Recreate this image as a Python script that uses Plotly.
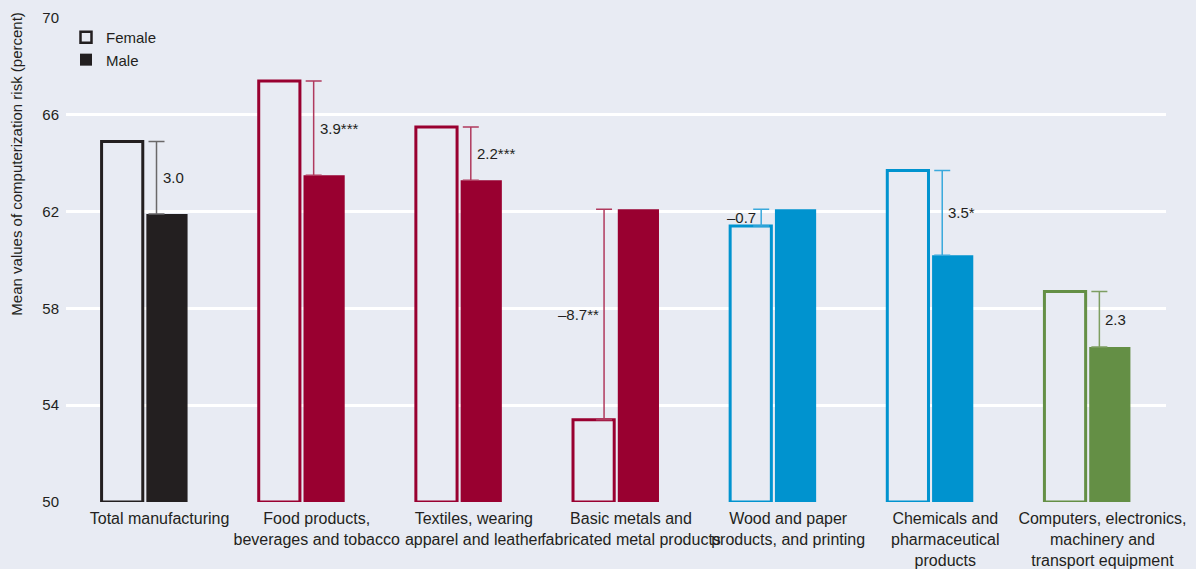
import plotly.graph_objects as go

# Sector categories (x axis)
categories = [
    "Total manufacturing",
    "Food products,<br>beverages and tobacco",
    "Textiles, wearing<br>apparel and leather",
    "Basic metals and<br>fabricated metal products",
    "Wood and paper<br>products, and printing",
    "Chemicals and<br>pharmaceutical<br>products",
    "Computers, electronics,<br>machinery and<br>transport equipment",
]

# Mean computerization risk (percent)
female = [64.9, 67.4, 65.5, 53.4, 61.4, 63.7, 58.7]
male = [61.9, 63.5, 63.3, 62.1, 62.1, 60.2, 56.4]
significance = ["", "***", "***", "**", "", "*", ""]

y_ticks = [50, 54, 58, 62, 66, 70]
AXIS_MIN, AXIS_MAX = 50, 70

bar_colors = ["#231f20", "#990030", "#990030", "#990030", "#0093cf", "#0093cf", "#648f45"]
whisker_colors = ["#6a6869", "#b03a5e", "#b03a5e", "#b03a5e", "#3aa9dc", "#3aa9dc", "#7e9e62"]

BG = "#e8ebf3"
TEXT = "#231f20"
FONT = "Liberation Sans, Arial, sans-serif"

xs = list(range(len(categories)))

fig = go.Figure()

fig.add_trace(go.Bar(
    x=xs, y=[v - AXIS_MIN for v in female], base=AXIS_MIN,
    marker=dict(color=BG, line=dict(color=bar_colors, width=3)),
    showlegend=False, hoverinfo="skip", offsetgroup="f",
))
fig.add_trace(go.Bar(
    x=xs, y=[v - AXIS_MIN for v in male], base=AXIS_MIN,
    marker=dict(color=bar_colors, line=dict(width=0)),
    showlegend=False, hoverinfo="skip", offsetgroup="m",
))

# Gap whiskers between female and male means, with labelled difference
annotations = []
for i in xs:
    d = female[i] - male[i]
    lo = min(female[i], male[i])
    side = 1 if d > 0 else -1
    xw = i + side * 0.076
    fig.add_trace(go.Scatter(
        x=[xw], y=[lo], mode="markers",
        marker=dict(size=1, color="rgba(0,0,0,0)"),
        error_y=dict(type="data", symmetric=False, array=[abs(d)], arrayminus=[0],
                     color=whisker_colors[i], thickness=1.5, width=8),
        showlegend=False, hoverinfo="skip",
    ))
    label = f"{d:.1f}".replace("-", "\u2013") + significance[i]
    annotations.append(dict(
        x=xw, y=(female[i] + male[i]) / 2, xref="x", yref="y",
        text=label, showarrow=False,
        xanchor="left" if side > 0 else "right",
        xshift=4 if side > 0 else -3,
        font=dict(size=15, color=TEXT, family=FONT),
    ))

# Legend entries
fig.add_trace(go.Scatter(
    x=[None], y=[None], mode="markers", name="Female",
    marker=dict(symbol="square-open", size=11, color=TEXT, line=dict(width=2.5, color=TEXT)),
))
fig.add_trace(go.Scatter(
    x=[None], y=[None], mode="markers", name="Male",
    marker=dict(symbol="square", size=12, color=TEXT),
))

annotations.append(dict(
    x=-0.0445, y=0.38, xref="paper", yref="paper",
    text="Mean values of computerization risk (percent)",
    textangle=-90, showarrow=False, xanchor="center", yanchor="bottom",
    font=dict(size=15, color=TEXT, family=FONT),
))

fig.update_layout(
    template="none",
    width=1196, height=569,
    margin=dict(l=66, r=30, t=18, b=67, pad=0),
    paper_bgcolor=BG, plot_bgcolor=BG,
    barmode="group", bargap=0.43, bargroupgap=0.08,
    font=dict(family=FONT, size=15, color=TEXT),
    legend=dict(x=0.0, y=0.994, xanchor="left", yanchor="top",
                bgcolor="rgba(0,0,0,0)", font=dict(size=15, color=TEXT),
                tracegroupgap=0, itemwidth=30),
    annotations=annotations,
    xaxis=dict(
        range=[-0.5, len(categories) - 0.5], automargin=False,
        tickmode="array", tickvals=xs, ticktext=categories, tickangle=0,
        ticklabelshift=15, ticklabelstandoff=5,
        showgrid=False, zeroline=False, showline=False, ticks="",
        tickfont=dict(size=16, color=TEXT, family=FONT),
    ),
    yaxis=dict(
        range=[AXIS_MIN, AXIS_MAX], tickmode="array", tickvals=y_ticks, automargin=False,
        showgrid=True, gridcolor="white", gridwidth=2.5,
        zeroline=False, showline=False, ticks="", ticklabelstandoff=6,
        tickfont=dict(size=15, color=TEXT, family=FONT),
    ),
)

fig.write_html("out.html")
